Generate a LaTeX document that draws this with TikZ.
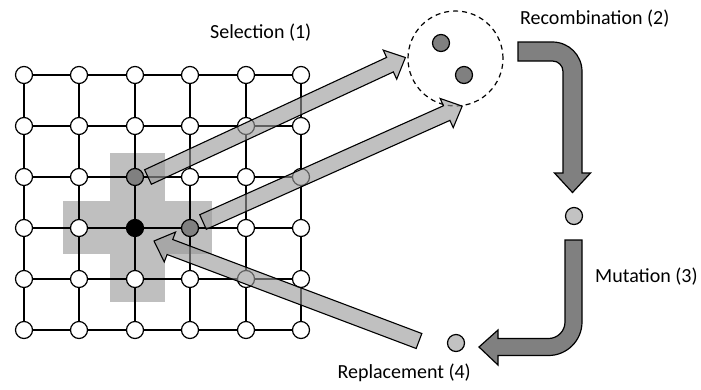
\documentclass[tikz,border=0pt]{standalone}
\usepackage{fontspec}
\setmainfont{Carlito}
\usetikzlibrary{calc}
\definecolor{crossgray}{gray}{0.75}
\definecolor{darkfill}{gray}{0.5}
\definecolor{lightdot}{gray}{0.76}
\definecolor{shaftfill}{gray}{0.6}

% broad straight arrow from #1 (tail) to #2 (tip)
\newcommand\broadarrow[2]{%
  \draw[broad] let \p1=(#1), \p2=(#2), \n1={atan2(\y2-\y1,\x2-\x1)} in
    ($(\p1)+(\n1+90:8pt)$)
    -- ($(\p2)+(\n1:-17pt)+(\n1+90:8pt)$)
    -- ($(\p2)+(\n1:-17pt)+(\n1+90:16pt)$)
    -- (\p2)
    -- ($(\p2)+(\n1:-17pt)+(\n1-90:16pt)$)
    -- ($(\p2)+(\n1:-17pt)+(\n1-90:8pt)$)
    -- ($(\p1)+(\n1-90:8pt)$) -- cycle;}

\begin{document}
\begin{tikzpicture}[x=1pt,y=-1pt,
  site/.style={circle,draw=black,line width=1.2pt,fill=white,minimum size=17pt,inner sep=0pt},
  site-2-2/.style={fill=darkfill},
  site-3-3/.style={fill=darkfill},
  site-2-3/.style={fill=black},
  dot/.style={circle,draw=black,line width=1.2pt,minimum size=17pt,inner sep=0pt},
  gridline/.style={draw=black,line width=1.6pt},
  broad/.style={draw=black,line width=1.1pt,fill=shaftfill,fill opacity=0.62,line join=miter},
  bent/.style={draw=black,line width=1.2pt,fill=darkfill,line join=miter},
  caption/.style={inner sep=0pt,font=\fontsize{20pt}{24pt}\selectfont}]
\useasboundingbox (0,0) rectangle (701,389);

% von Neumann neighbourhood of the centre cell
\fill[crossgray] (110,153) rectangle (165,302);
\fill[crossgray] (63,201) rectangle (212,254);

% 6x6 lattice of cells
\foreach \i/\x in {0/24,1/79,2/135,3/190,4/246,5/301}{
  \foreach \j/\y in {0/75,1/126,2/177,3/228,4/279,5/330}{
    \node[site,site-\i-\j/.try] (g-\i-\j) at (\x,\y) {};
  }
}
\foreach \i in {0,...,5}{
  \foreach \j [count=\k] in {0,...,4}{
    \draw[gridline] (g-\i-\j) -- (g-\i-\k);
    \draw[gridline] (g-\j-\i) -- (g-\k-\i);
  }
}

% mating pool with the two parents
\node[circle,draw=black,line width=1.2pt,dashed,dash pattern=on 5pt off 4pt,
      minimum size=95pt,inner sep=0pt] (pool) at (455.5,58.5) {};
\node[dot,fill=darkfill] (p1) at (441,43) {};
\node[dot,fill=darkfill] (p2) at (464,75) {};

% offspring before and after mutation
\node[dot,fill=lightdot] (mut) at (574,216) {};
\node[dot,fill=lightdot] (rep) at (456,343) {};

% labels
\node[caption,anchor=base west] (lsel) at (210,38) {Selection (1)};
\node[caption,anchor=base west] (lrec) at (520,24) {Recombination (2)};
\node[caption,anchor=base west] (lmut) at (595,282) {Mutation (3)};
\node[caption,anchor=base east] (lrep) at (471,378) {Replacement (4)};

% bent arrow: recombination -> mutation
\draw[bent] (518,42) -- (552.5,42) .. controls (568.8,42) and (582,55.2) .. (582,71.5)
  -- (582,173) -- (590.5,173) -- (572.5,192.5) -- (554.5,173) -- (563,173)
  -- (563,71.5) .. controls (563,65.7) and (558.3,61) .. (552.5,61) -- (518,61) -- cycle;

% bent arrow: mutation -> replacement
\draw[bent] (565,240) -- (582,240) -- (582,322) .. controls (582,340.5) and (567,355.5) .. (548.5,355.5)
  -- (498,355.5) -- (498,365) -- (479,347) -- (498,330) -- (498,338.5)
  -- (548.5,338.5) .. controls (557.6,338.5) and (565,331.1) .. (565,322) -- cycle;

% selection and replacement arrows
\coordinate (s1) at ($(g-2-2)+(13,0)$);
\coordinate (s2) at ($(g-3-3)+(13,-6)$);
\coordinate (e1) at ($(pool.west)+(-2,-1)$);
\coordinate (e2) at (pool.-82);
\coordinate (r0) at ($(rep)+(-37,-2)$);
\coordinate (r1) at ($(g-2-3)+(19,13)$);
\broadarrow{s1}{e1}
\broadarrow{s2}{e2}
\broadarrow{r0}{r1}
\end{tikzpicture}
\end{document}
